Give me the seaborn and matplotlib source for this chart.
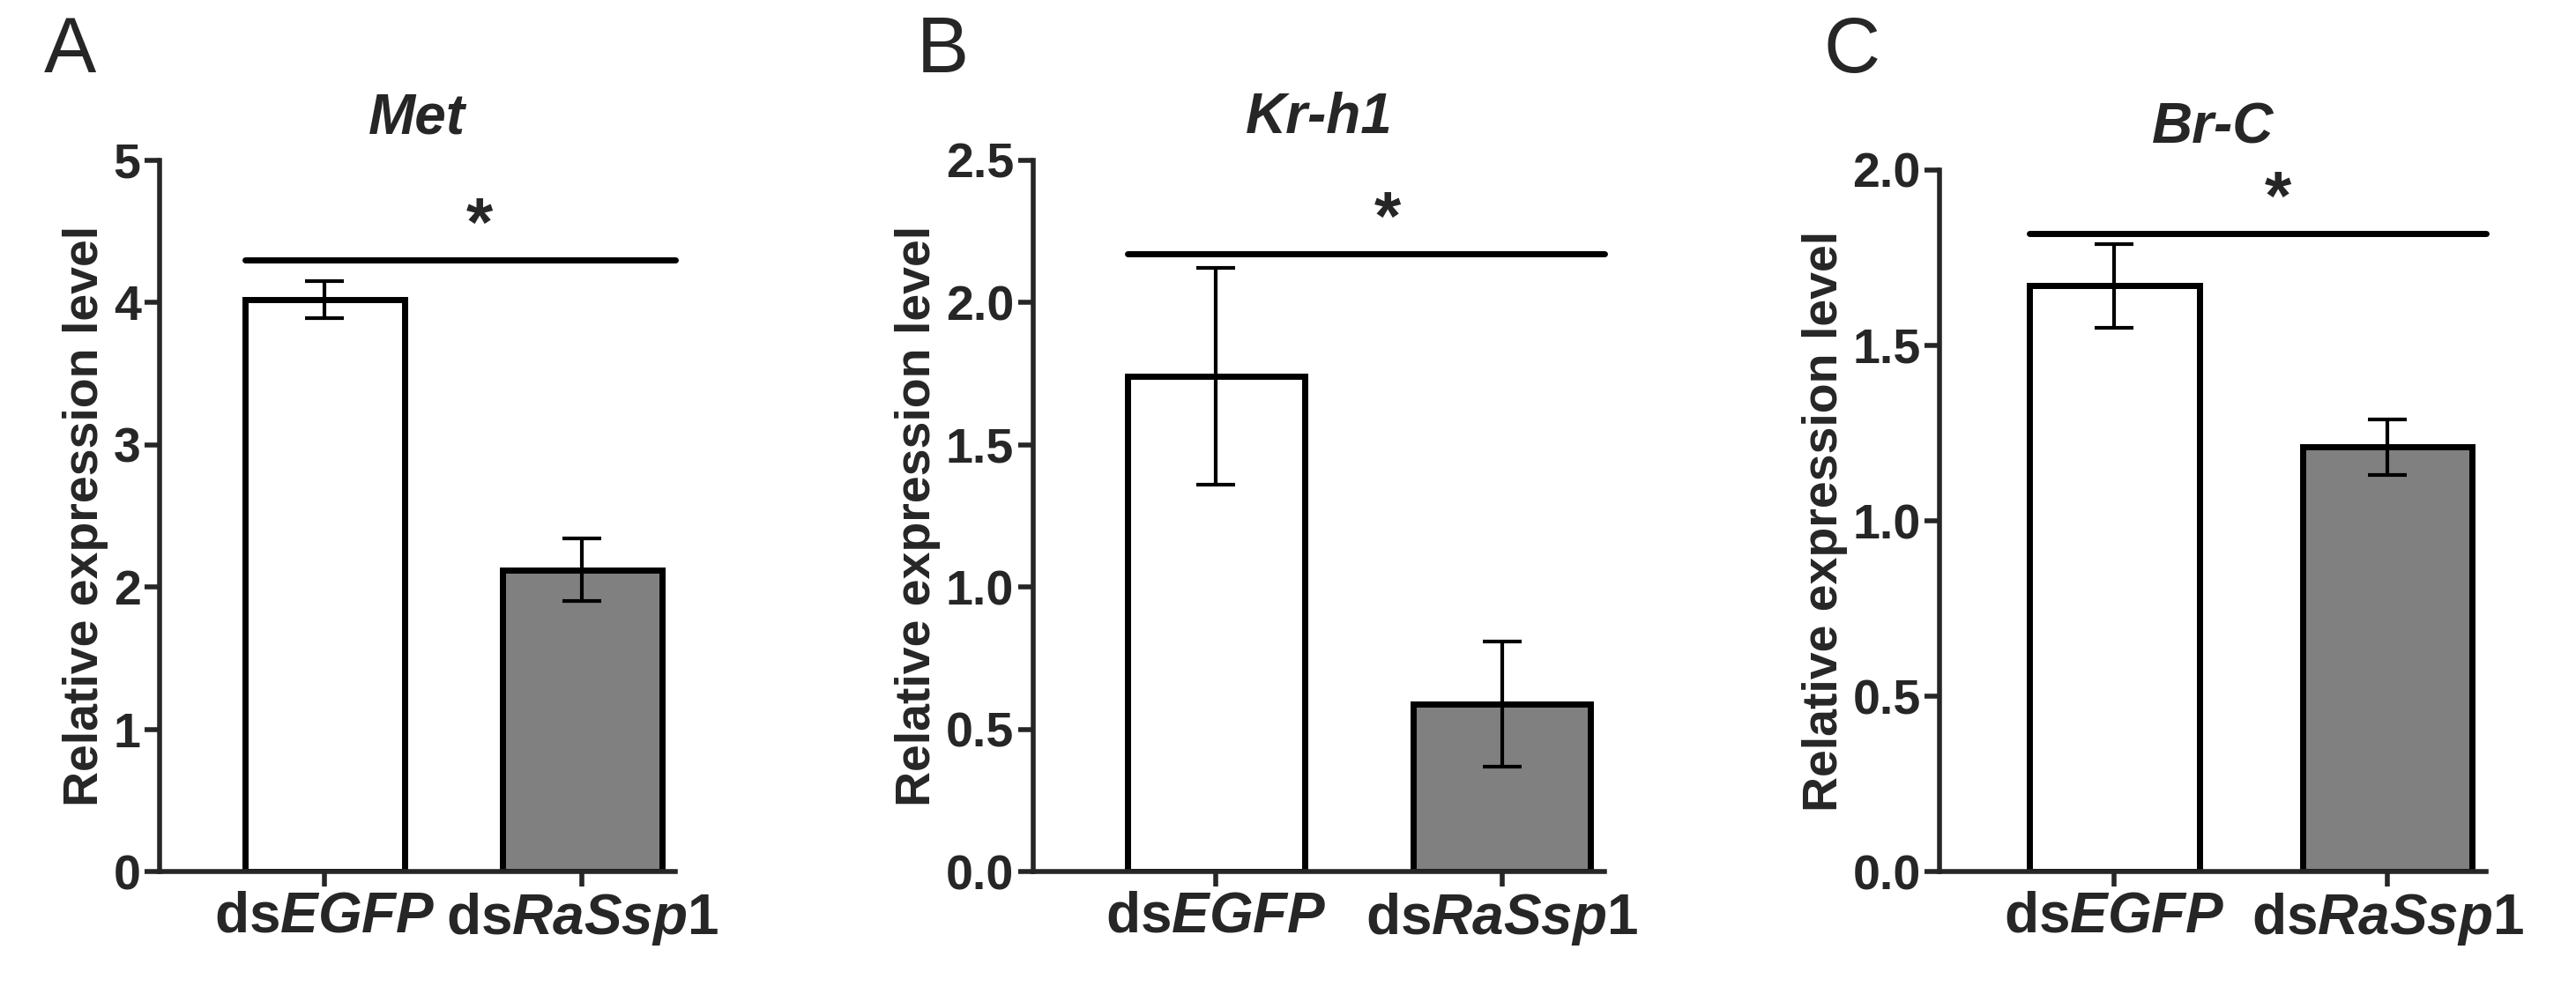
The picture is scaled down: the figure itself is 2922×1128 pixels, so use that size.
import matplotlib
matplotlib.use("Agg")
import matplotlib.pyplot as plt
import seaborn as sns
import pandas as pd

sns.set_style("ticks")
plt.rcParams["font.family"] = ["Liberation Sans", "DejaVu Sans"]
plt.rcParams["font.weight"] = "bold"
plt.rcParams["mathtext.fontset"] = "custom"
plt.rcParams["mathtext.rm"] = "Liberation Sans:bold"
plt.rcParams["mathtext.it"] = "Liberation Sans:italic:bold"

groups = ["ds$\\mathit{EGFP}$", "ds$\\mathit{RaSsp1}$"]
genes = ["Met", "Kr-h1", "Br-C"]
letters = ["A", "B", "C"]
means = [[4.02, 2.12], [1.74, 0.59], [1.67, 1.21]]
errs = [[0.13, 0.22], [0.38, 0.22], [0.12, 0.08]]
ylims = [5, 2.5, 2.0]
yticks = [[0, 1, 2, 3, 4, 5], [0, 0.5, 1.0, 1.5, 2.0, 2.5], [0, 0.5, 1.0, 1.5, 2.0]]
tick_fmt = ["{:.0f}", "{:.1f}", "{:.1f}"]
sig_y = [4.3, 2.17, 1.82]

# axes boxes [left, bottom, width, height]
boxes = [[0.062, 0.123, 0.200, 0.716],
         [0.401, 0.123, 0.222, 0.716],
         [0.753, 0.123, 0.212, 0.706]]

fig = plt.figure(figsize=(29.22, 11.28), dpi=100)
fs = 40

for i in range(3):
    ax = fig.add_axes(boxes[i])
    df = pd.DataFrame({"group": groups, "value": means[i]})
    sns.barplot(data=df, x="group", y="value", hue="group", palette=["white", "#808080"],
                width=0.62, edgecolor="black", linewidth=5, legend=False, ax=ax)
    ax.errorbar([0, 1], means[i], yerr=errs[i], fmt="none", ecolor="black",
                elinewidth=3, capsize=16, capthick=3, zorder=5)
    ax.set_xlim(-0.64, 1.36)
    ax.set_ylim(0, ylims[i])
    ax.set_yticks(yticks[i])
    ax.set_yticklabels([tick_fmt[i].format(t) for t in yticks[i]], fontsize=fs, fontweight="bold")
    ax.tick_params(axis="x", labelsize=fs + 6, width=4, length=12)
    ax.tick_params(axis="y", width=4, length=12)
    ax.set_xlabel("")
    ax.set_ylabel("Relative expression level", fontsize=fs, fontweight="bold")
    ax.set_title(genes[i], fontsize=fs + 6, fontweight="bold", fontstyle="italic", pad=22)
    for s in ["top", "right"]:
        ax.spines[s].set_visible(False)
    for s in ["left", "bottom"]:
        ax.spines[s].set_linewidth(4)
    ax.plot([-0.31, 1.36], [sig_y[i]] * 2, color="black", lw=5, clip_on=False)
    ax.text(0.6, sig_y[i], "*", ha="center", va="bottom", fontsize=fs + 16, fontweight="bold")
    fig.text(boxes[i][0] - 0.045, 0.985, letters[i], fontsize=64, fontweight="normal",
             va="top", ha="left")

fig.savefig("out.png", dpi=100)
